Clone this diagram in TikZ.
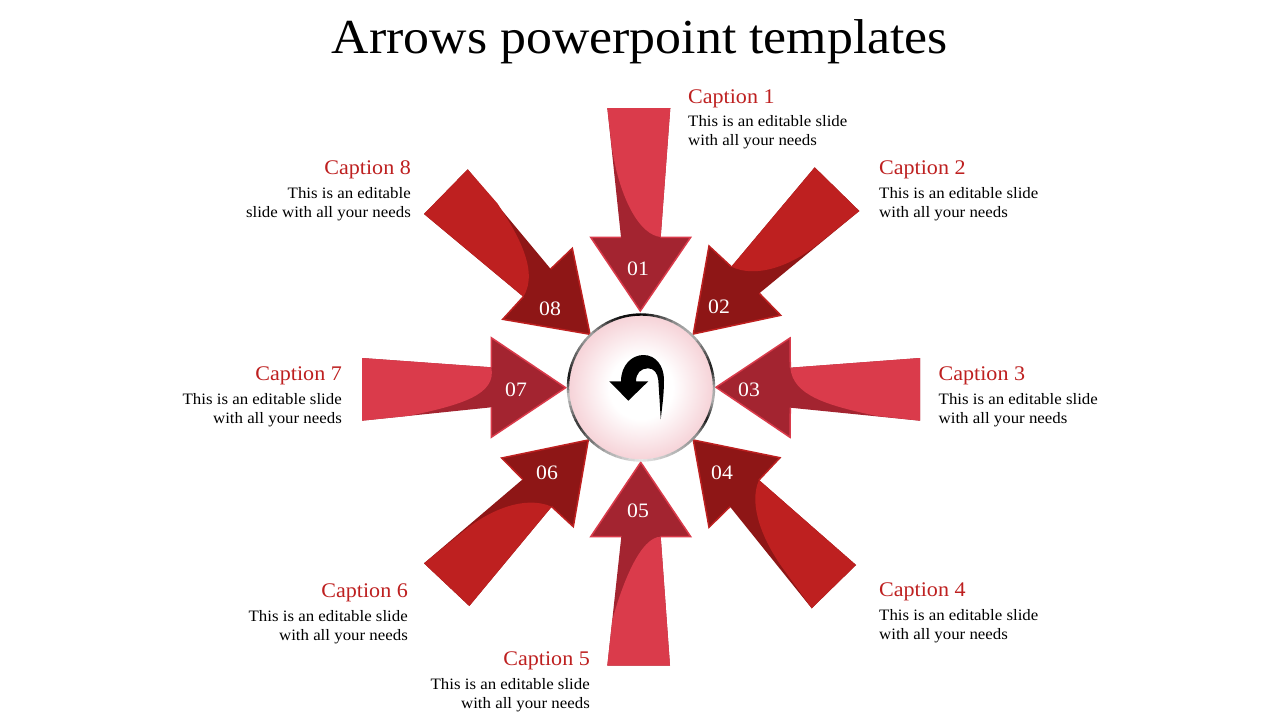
\documentclass[tikz,border=0pt]{standalone}
\usepackage{fontspec}
\setmainfont[FakeStretch=1.06]{Liberation Serif}
\definecolor{rosel}{HTML}{DA3B4B}
\definecolor{rosed}{HTML}{A32430}
\definecolor{redl}{HTML}{BE2020}
\definecolor{redd}{HTML}{8E1616}
\definecolor{ringpink}{HTML}{F6D3D8}
\pgfdeclareradialshading{hub}{\pgfpoint{0bp}{0bp}}{color(0bp)=(white);color(11bp)=(white);color(25bp)=(ringpink);color(50bp)=(ringpink)}
\tikzset{
  titletext/.style={font=\fontsize{48.9}{52}\selectfont,text=black,inner sep=0pt},
  captext/.style={font=\fontsize{20.8}{24}\selectfont,text=redl,inner sep=0pt},
  bodytext/.style={font=\fontsize{15.9}{19}\selectfont,text=black,inner sep=0pt},
  numtext/.style={font=\fontsize{20.5}{24}\selectfont,text=white,inner sep=0pt},
  headline/.style={line width=1.5pt,line join=miter}
}
\begin{document}
\begin{tikzpicture}[x=1pt,y=-1pt]
\useasboundingbox (0,0) rectangle (1280,720);
\fill[white] (0,0) rectangle (1280,720);
\node[titletext] (title) at (640,42) {Arrows powerpoint templates};

% arrow 1
\fill[rosed] (607.3,108)--(670.3,108)--(660.7,237.3)--(690.7,237.3)--(640.3,311)--(590.7,237.3)--(621,237.3)--cycle;
\fill[rosel] (607.3,108)--(670.3,108)--(660.7,237) .. controls (640,235) and (620,200) .. (611.7,147)--cycle;
\draw[rosel,headline] (621,237.3)--(590.7,237.3)--(640.3,311)--(690.7,237.3)--(660.7,237.3);
% arrow 2
\fill[redd] (814.7,167.3)--(859.3,211)--(759.3,293.3)--(780.7,315.3)--(693.3,334)--(709,246)--(731.3,266.7)--cycle;
\fill[redl] (814.7,167.3)--(859.3,211)--(823.3,240) .. controls (790,268) and (755,278) .. (731.3,266.7)--cycle;
\draw[redl,headline] (759.3,293.3)--(780.7,315.3)--(693.3,334)--(709,246)--(731.3,266.7);
% arrow 3
\fill[rosed] (920,358)--(920,420.7)--(790.3,407.7)--(790,437.3)--(716,387.3)--(790,338)--(790.3,367.7)--cycle;
\fill[rosel] (790.3,367.7)--(920,358)--(920,420.7)--(876.7,416) .. controls (825,405) and (793,395) .. (790.3,367.7)--cycle;
\draw[rosel,headline] (790.3,407.7)--(790,437.3)--(716,387.3)--(790,338)--(790.3,367.7);
% arrow 4
\fill[redd] (856,565)--(811.7,608.3)--(730,506.7)--(709,527.3)--(693.3,440)--(780,457.7)--(759,480)--cycle;
\fill[redl] (759,480)--(856,565)--(811.7,608.3)--(781.7,566.7) .. controls (763,540) and (748,505) .. (759,480)--cycle;
\draw[redl,headline] (730,506.7)--(709,527.3)--(693.3,440)--(780,457.7)--(759,480);
% arrow 5
\fill[rosed] (607.3,665.7)--(670,665.7)--(660.7,536.7)--(690.7,536.7)--(640.7,462.3)--(590.7,536.7)--(621.3,536.7)--cycle;
\fill[rosel] (660.7,536.7)--(670,665.7)--(607.3,665.7)--(612.3,620) .. controls (622,585) and (640,537) .. (660.7,536.7)--cycle;
\draw[rosel,headline] (621.3,536.7)--(590.7,536.7)--(640.7,462.3)--(690.7,536.7)--(660.7,536.7);
% arrow 6
\fill[redd] (424,563.3)--(469.3,606)--(551.7,506.7)--(573.3,526.7)--(588.3,440)--(501.7,458)--(522.7,479.3)--cycle;
\fill[redl] (551.7,506.7)--(469.3,606)--(424,563.3)--(465,530) .. controls (490,510) and (525,495) .. (551.7,506.7)--cycle;
\draw[redl,headline] (551.7,506.7)--(573.3,526.7)--(588.3,440)--(501.7,458)--(522.7,479.3);
% arrow 7
\fill[rosed] (362,358)--(362,420.7)--(491.3,407.3)--(491.3,437.3)--(565.7,387.7)--(491.3,337.7)--(491.3,367.3)--cycle;
\fill[rosel] (491.3,367.3)--(362,358)--(362,420.7)--(410,415.7) .. controls (460,405) and (497,395) .. (491.3,367.3)--cycle;
\draw[rosel,headline] (491.3,407.3)--(491.3,437.3)--(565.7,387.7)--(491.3,337.7)--(491.3,367.3);
% arrow 8
\fill[redd] (467.7,169.3)--(424,214)--(523.3,296.7)--(502.7,319.3)--(590,334.3)--(572.3,248.3)--(550.7,269)--cycle;
\fill[redl] (523.3,296.7)--(424,214)--(467.7,169.3)--(497.3,203.3) .. controls (515,230) and (540,270) .. (523.3,296.7)--cycle;
\draw[redl,headline] (523.3,296.7)--(502.7,319.3)--(590,334.3)--(572.3,248.3)--(550.7,269);

% hub
\shade[shading=hub] (641,387.5) circle[radius=72];
\foreach \a/\b/\p/\q in {0/15/35/90,15/45/90/30,45/60/30/40,60/90/40/100,90/110/100/90,110/135/90/35,135/160/35/70,160/172/70/95,172/187/95/20,187/210/20/80,210/240/80/35,240/270/35/10,270/300/10/30,300/320/30/45,320/334/45/90,334/350/90/30,350/360/30/35}{
  \foreach \k in {0,...,5}{
    \pgfmathsetmacro{\sa}{\a+(\b-\a)*\k/6}
    \pgfmathsetmacro{\sb}{\a+(\b-\a)*(\k+1)/6+0.3}
    \pgfmathsetmacro{\sg}{\p+(\q-\p)*(\k+0.5)/6}
    \draw[shift={(641,387.5)},black!\sg!white,line width=2.4pt] (-\sa:73) arc[start angle=-\sa,end angle=-\sb,radius=73];
  }
}
% return icon
\fill[black] (609.3,381.3)--(621,381.3) .. controls (621,365) and (632,355) .. (643.3,355) .. controls (656,355) and (664,366) .. (664,380) .. controls (664,395) and (662,408) .. (660.7,419.3) .. controls (660,405) and (659,392) .. (658.3,380) .. controls (657.5,373) and (654,368.3) .. (648,368.3) .. controls (641,368.3) and (636,373) .. (636,381.3)--(648.3,381.3)--(628.3,400.7)--cycle;

% numbers
\node[numtext] (n1) at (638,269) {01};
\node[numtext] (n2) at (719,307) {02};
\node[numtext] (n3) at (749,390) {03};
\node[numtext] (n4) at (722,473) {04};
\node[numtext] (n5) at (638,511) {05};
\node[numtext] (n6) at (547,473) {06};
\node[numtext] (n7) at (516,390) {07};
\node[numtext] (n8) at (550,309) {08};

% captions
\node[captext,anchor=west] (c1) at (688,99) {Caption 1};
\node[bodytext,anchor=west,align=left] (b1) at (688,132) {This is an editable slide\\with all your needs};
\node[captext,anchor=west] (c2) at (879,170) {Caption 2};
\node[bodytext,anchor=west,align=left] (b2) at (879,204) {This is an editable slide\\with all your needs};
\node[captext,anchor=west] (c3) at (938.5,376) {Caption 3};
\node[bodytext,anchor=west,align=left] (b3) at (938.5,410) {This is an editable slide\\with all your needs};
\node[captext,anchor=west] (c4) at (879,592) {Caption 4};
\node[bodytext,anchor=west,align=left] (b4) at (879,626) {This is an editable slide\\with all your needs};
\node[captext,anchor=east] (c5) at (590,661) {Caption 5};
\node[bodytext,anchor=east,align=right] (b5) at (590,695) {This is an editable slide\\with all your needs};
\node[captext,anchor=east] (c6) at (408,593) {Caption 6};
\node[bodytext,anchor=east,align=right] (b6) at (408,627) {This is an editable slide\\with all your needs};
\node[captext,anchor=east] (c7) at (342,376) {Caption 7};
\node[bodytext,anchor=east,align=right] (b7) at (342,410) {This is an editable slide\\with all your needs};
\node[captext,anchor=east] (c8) at (411,170) {Caption 8};
\node[bodytext,anchor=east,align=right] (b8) at (411,204) {This is an editable\\slide with all your needs};
\end{tikzpicture}
\end{document}
